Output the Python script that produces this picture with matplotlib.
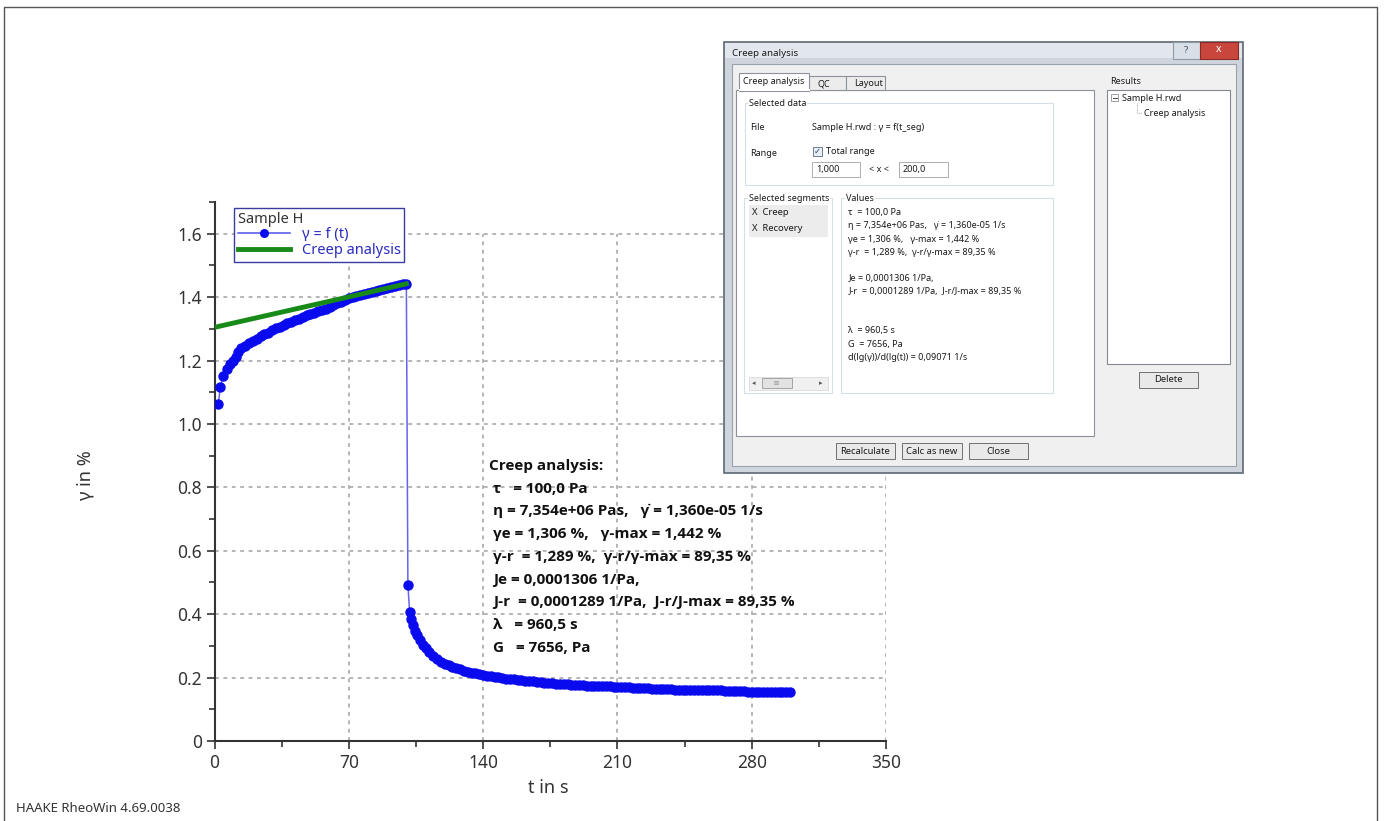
import numpy as np
import matplotlib.pyplot as plt
from matplotlib.patches import Rectangle
from matplotlib.lines import Line2D
from matplotlib.ticker import MultipleLocator

plt.rcParams['font.family'] = ['Noto Sans', 'DejaVu Sans']

# creep segment (t in s, gamma in %)
t_creep = [2, 3, 4.5, 6.3, 8, 9.5, 11, 12.5, 14, 16, 18, 20, 22, 24, 26, 28, 30, 32, 34, 36,
           38, 40, 42, 44, 46, 48, 50, 52, 54, 56, 58, 60, 62, 64, 66, 68, 70, 72, 74, 76,
           78, 80, 82, 84, 86, 88, 90, 92, 94, 96, 98, 100]
g_creep = [1.062, 1.116, 1.150, 1.173, 1.189, 1.200, 1.210, 1.227, 1.238, 1.247, 1.256, 1.263,
           1.269, 1.276, 1.283, 1.288, 1.296, 1.303, 1.307, 1.312, 1.318, 1.323, 1.328, 1.332,
           1.337, 1.343, 1.346, 1.350, 1.356, 1.360, 1.364, 1.370, 1.375, 1.381, 1.386, 1.391,
           1.397, 1.401, 1.404, 1.408, 1.410, 1.413, 1.415, 1.419, 1.423, 1.427, 1.429, 1.431,
           1.434, 1.437, 1.440, 1.442]

# recovery segment
t_recov = [100.8, 101.7, 102.5, 103.5, 104.5, 105.5, 107, 108.5, 110, 112, 114, 116, 118, 120,
           122, 124, 126, 128, 130, 132, 134, 136, 138, 140, 142, 144, 146, 148, 150, 152, 154,
           156, 158, 160, 162, 164, 166, 168, 170, 172, 174, 176, 178, 180, 182, 184, 186, 188,
           190, 192, 194, 196, 198, 200, 202, 204, 206, 208, 210, 212, 214, 216, 218, 220, 222,
           224, 226, 228, 230, 232, 234, 236, 238, 240, 242, 244, 246, 248, 250, 252, 254, 256,
           258, 260, 262, 264, 266, 268, 270, 272, 274, 276, 278, 280, 282, 284, 286, 288, 290,
           292, 294, 296, 298, 300]
g_recov = [0.492, 0.408, 0.385, 0.365, 0.348, 0.333, 0.318, 0.303, 0.292, 0.280, 0.268, 0.258,
           0.250, 0.244, 0.239, 0.234, 0.229, 0.226, 0.222, 0.219, 0.216, 0.214, 0.211, 0.209,
           0.206, 0.204, 0.202, 0.201, 0.199, 0.197, 0.196, 0.194, 0.192, 0.191, 0.190, 0.189,
           0.188, 0.187, 0.185, 0.184, 0.183, 0.182, 0.181, 0.180, 0.180, 0.179, 0.178, 0.177,
           0.177, 0.176, 0.175, 0.175, 0.174, 0.173, 0.173, 0.172, 0.172, 0.171, 0.171, 0.170,
           0.169, 0.169, 0.168, 0.168, 0.167, 0.167, 0.166, 0.164, 0.165, 0.164, 0.164, 0.163,
           0.163, 0.162, 0.162, 0.161, 0.162, 0.161, 0.160, 0.161, 0.160, 0.161, 0.162, 0.162,
           0.161, 0.160, 0.159, 0.159, 0.158, 0.158, 0.157, 0.157, 0.156, 0.156, 0.155, 0.156,
           0.155, 0.154, 0.155, 0.154, 0.153, 0.154, 0.153, 0.154]

# creep analysis fit line
fit_t = [1.0, 100.0]
fit_g = [1.306, 1.442]

x_ticks = [0, 70, 140, 210, 280, 350]
y_ticks = [0, 0.2, 0.4, 0.6, 0.8, 1.0, 1.2, 1.4, 1.6]
y_labels = ['0', '0.2', '0.4', '0.6', '0.8', '1.0', '1.2', '1.4', '1.6']

result_lines = ['Creep analysis:',
                'τ   = 100,0 Pa',
                'η = 7,354e+06 Pas,   γ̇ = 1,360e-05 1/s',
                'γe = 1,306 %,   γ-max = 1,442 %',
                'γ-r  = 1,289 %,  γ-r/γ-max = 89,35 %',
                'Je = 0,0001306 1/Pa,',
                'J-r  = 0,0001289 1/Pa,  J-r/J-max = 89,35 %',
                'λ   = 960,5 s',
                'G   = 7656, Pa']

dialog_values = [('τ  = 100,0 Pa', 212.7),
                 ('η = 7,354e+06 Pas,   γ̇ = 1,360e-05 1/s', 226),
                 ('γe = 1,306 %,   γ-max = 1,442 %', 239.3),
                 ('γ-r  = 1,289 %,  γ-r/γ-max = 89,35 %', 252.3),
                 ('Je = 0,0001306 1/Pa,', 278.3),
                 ('J-r  = 0,0001289 1/Pa,  J-r/J-max = 89,35 %', 291.7),
                 ('λ  = 960,5 s', 331),
                 ('G  = 7656, Pa', 344),
                 ('d(lg(γ̇))/d(lg(t)) = 0,09071 1/s', 357.3)]
segments = ['X  Creep', 'X  Recovery']

W, H = 1384, 821
fig = plt.figure(figsize=(W / 100, H / 100), dpi=100)

ax = fig.add_axes([214.5 / W, 1 - 741 / H, (886 - 214.5) / W, 539 / H])
ax.set_xlim(0, 350)
ax.set_ylim(0, 1.7)

grid_kw = dict(colors='#a0a0a0', linestyles=(0, (2.5, 3)), linewidth=1.1, zorder=1)
ax.hlines(y_ticks[1:], 0, 350, **grid_kw)
ax.vlines(x_ticks[1:], 0, 1.6, **grid_kw)

t_all = t_creep + t_recov
g_all = g_creep + g_recov
ax.plot(t_all, g_all, color='#6464ec', lw=1.1, zorder=3)
ax.plot(t_all, g_all, ls='none', marker='o', ms=6.5, mfc='#0a0aee', mec='#0a0aee', zorder=3)
ax.plot(fit_t, fit_g, color='#178a17', lw=3.5, zorder=4)

ax.set_xticks(x_ticks)
ax.set_yticks(y_ticks)
ax.set_yticklabels(y_labels)
ax.xaxis.set_minor_locator(MultipleLocator(35))
ax.yaxis.set_minor_locator(MultipleLocator(0.1))
ax.tick_params(which='both', direction='out', color='#333333', width=1.2,
               labelsize=12.5, labelcolor='#333333')
ax.tick_params(which='major', length=6, pad=3)
ax.tick_params(which='minor', length=4)
for s in ['top', 'right']:
    ax.spines[s].set_visible(False)
for s in ['left', 'bottom']:
    ax.spines[s].set_color('#333333')
    ax.spines[s].set_linewidth(1.5)

fig.text(85 / W, 1 - 475 / H, 'γ in %', rotation=90, ha='center', va='center',
         fontsize=13, color='#333333')
fig.text(548 / W, 1 - 788 / H, 't in s', ha='center', va='center',
         fontsize=13, color='#333333')

handles = [Line2D([], [], color='#5050ee', lw=1.1, marker='o', ms=5.5,
                  mfc='#0a0aee', mec='#0a0aee'),
           Line2D([], [], color='#178a17', lw=3.5)]
leg = ax.legend(handles, ['γ = f (t)', 'Creep analysis'], title='Sample H',
                loc='upper left', bbox_to_anchor=(234 / W, 1 - 208 / H),
                bbox_transform=fig.transFigure, borderaxespad=0, fancybox=False,
                framealpha=1, edgecolor='#3a3aa0', fontsize=10.5, title_fontsize=10.5,
                labelcolor='#2b2bc0', handlelength=3.6, handletextpad=0.8,
                labelspacing=0.05, borderpad=0.25, alignment='left')
leg.get_title().set_color('#333333')
leg.get_frame().set_linewidth(1.0)

# overlay in pixel coordinates
ov = fig.add_axes([0, 0, 1, 1], zorder=10)
ov.set_xlim(0, W)
ov.set_ylim(H, 0)
ov.axis('off')


def box(x0, y0, x1, y1, fc='white', ec='#a0a0a0', lw=1.0, z=1):
    ov.add_patch(Rectangle((x0, y0), x1 - x0, y1 - y0, facecolor=fc,
                           edgecolor=ec, linewidth=lw, zorder=z))


def txt(x, y, s, size=6.5, color='#1a1a1a', **kw):
    ov.text(x, y, s, fontsize=size, color=color, va='center', ha=kw.pop('ha', 'left'),
            zorder=kw.pop('z', 5), **kw)


# page border
ov.plot([4, 4, 1377, 1377], [830, 7, 7, 830], color='#555555', lw=1.0)
txt(16, 808, 'HAAKE RheoWin 4.69.0038', size=9.5, color='#333333')

# result text block
y = 466
for i, line in enumerate(result_lines):
    txt(489 if i == 0 else 493, y, line, size=11, color='#111111', weight='bold',
        family=['Open Sans', 'Liberation Sans', 'DejaVu Sans'])
    y += 22.7

# dialog window
box(724, 42, 1243, 473, fc='#cfd5dc', ec='#5f6a76', lw=1.2, z=1)
box(725, 43, 1242, 58, fc='#e2e7ed', ec='none', lw=0, z=1)
box(732, 64, 1236, 466, fc='#f0f0f0', ec='#98a2ad', lw=0.8, z=2)
txt(732, 53, 'Creep analysis', size=7)
box(1173, 42, 1200, 59, fc='#d8dfe7', ec='#8e99a6', lw=0.8, z=3)
txt(1186.5, 50.5, '?', size=7, color='#4a5563', ha='center')
box(1200, 42, 1238, 59, fc='#c9463d', ec='#8a2a24', lw=0.8, z=3)
txt(1219, 50, 'x', size=7.5, color='white', ha='center', weight='bold')

# tab panel
box(736, 90, 1094, 436, fc='white', ec='#8c919a', lw=0.8, z=3)
box(809, 76, 846, 90, fc='#ececec', ec='#8c919a', lw=0.8, z=3)
box(846, 76, 885, 90, fc='#ececec', ec='#8c919a', lw=0.8, z=3)
box(739, 73, 809, 91, fc='white', ec='#8c919a', lw=0.8, z=4)
ov.plot([739.5, 808.5], [90, 90], color='white', lw=1.5, zorder=4.5)
txt(743, 82, 'Creep analysis')
txt(818, 83.5, 'QC')
txt(854, 83.5, 'Layout')

# selected data group
box(745, 103, 1053, 185, fc='white', ec='#d5dfe5', lw=0.8, z=4)
txt(749, 103.3, 'Selected data', bbox=dict(fc='white', ec='none', pad=0.5))
txt(750, 127.7, 'File')
txt(812, 127.7, 'Sample H.rwd : γ = f(t_seg)')
txt(750, 153.3, 'Range')
box(813, 147, 822, 156, fc='#e8eef6', ec='#6f7f90', lw=0.7, z=5)
txt(817.5, 151.5, '✓', size=6, color='#2b3f70', ha='center', z=6)
txt(826, 151.7, 'Total range')
box(812, 162, 860, 177, fc='white', ec='#abadb3', lw=0.7, z=5)
txt(816, 169.5, '1,000')
txt(869, 169.5, '< x <')
box(899, 162, 948, 177, fc='white', ec='#abadb3', lw=0.7, z=5)
txt(903, 169.5, '200,0')

# selected segments group
box(744, 198, 832, 393, fc='white', ec='#d5dfe5', lw=0.8, z=4)
txt(749, 198.3, 'Selected segments', bbox=dict(fc='white', ec='none', pad=0.5))
box(748.5, 205, 828, 236.7, fc='#ececec', ec='none', lw=0, z=5)
for k, s in enumerate(segments):
    txt(752, 212.7 + 15.6 * k, s, size=6.8)
box(748.5, 377, 828, 390, fc='#f0f0f0', ec='#dadada', lw=0.6, z=5)
box(762, 378.5, 791.7, 388.5, fc='#e2e2e2', ec='#9a9a9a', lw=0.6, z=6)
txt(776.8, 383.5, 'III', size=4, color='#666666', ha='center', z=7)
txt(754, 383.5, '◂', size=5, color='#555555', ha='center', z=7)
txt(821, 383.5, '▸', size=5, color='#555555', ha='center', z=7)

# values group
box(841, 198, 1053, 393, fc='white', ec='#d5dfe5', lw=0.8, z=4)
txt(846, 198.3, 'Values', bbox=dict(fc='white', ec='none', pad=0.5))
for s, yy in dialog_values:
    txt(848.5, yy, s)

# results
txt(1110, 81.7, 'Results')
box(1107, 90, 1230, 364, fc='white', ec='#828790', lw=0.8, z=3)
box(1111, 94.5, 1118, 101.5, fc='white', ec='#919191', lw=0.6, z=4)
ov.plot([1112.5, 1116.5], [98, 98], color='#444444', lw=0.7, zorder=5)
txt(1122, 98.3, 'Sample H.rwd')
ov.plot([1137, 1137, 1142], [103, 113.3, 113.3], color='#a0a0a0', lw=0.6,
        linestyle=(0, (1, 1)), zorder=4)
txt(1144, 113.3, 'Creep analysis')
box(1138.5, 371.7, 1198.4, 388.3, fc='#e9e9e9', ec='#707070', lw=0.7, z=3)
txt(1168.5, 380, 'Delete', size=6.8, ha='center')

# bottom buttons
for lbl, x0, x1 in [('Recalculate', 835.6, 895.1), ('Calc as new', 901.9, 961.7),
                    ('Close', 968.8, 1028.3)]:
    box(x0, 443.3, x1, 459.3, fc='#e9e9e9', ec='#707070', lw=0.7, z=3)
    txt((x0 + x1) / 2, 451.3, lbl, size=6.8, ha='center')

fig.savefig('out.png', dpi=100)
